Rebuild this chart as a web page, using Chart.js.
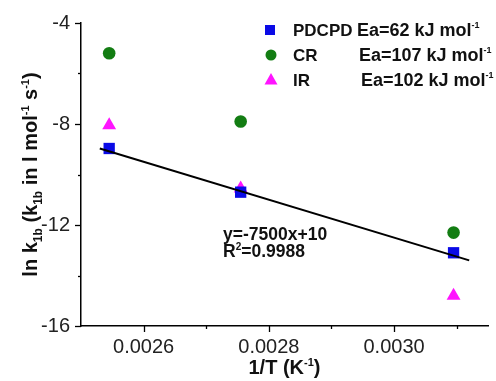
<!DOCTYPE html>
<html>
<head>
<meta charset="utf-8">
<script src="https://cdn.jsdelivr.net/npm/chart.js@4.4.0/dist/chart.umd.min.js"></script>
<style>
html,body{margin:0;padding:0;background:#fff;}
canvas{display:block;}
</style>
</head>
<body>
<canvas id="c" width="496" height="381"></canvas>
<script>
// ---- data ----
const invT   = [0.002545, 0.002755, 0.003095];     // 1/T (K^-1)
const pdcpd  = [-8.97, -10.70, -13.10];
const cr     = [-5.20, -7.90, -12.30];
const ir     = [-8.05, -10.55, -14.80];
const fitX   = [0.00253, 0.00312];
const fitY   = [-8.97, -13.40];
const seriesNames = ['PDCPD', 'CR', 'IR'];
const seriesEa    = ['Ea=62 kJ mol', 'Ea=107 kJ mol', 'Ea=102 kJ mol'];
const xMajor = [0.0026, 0.0028, 0.0030];
const xMinor = [0.0027, 0.0029, 0.0031];
const yMajor = [-4, -8, -12, -16];
const yMinor = [-6, -10, -14];
const eqText = 'y=-7500x+10';
const r2Value = '=0.9988';

const FONT = '"Liberation Sans", Arial, sans-serif';
const pts = (ys) => invT.map((x, i) => ({x: x, y: ys[i]}));

function drawRich(ctx, segs, x, y, align) {
  let total = 0;
  segs.forEach(s => { ctx.font = 'bold ' + s.size + 'px ' + FONT; s.w = ctx.measureText(s.t).width; total += s.w; });
  let cx = align === 'center' ? x - total / 2 : x;
  ctx.textAlign = 'left';
  ctx.textBaseline = 'alphabetic';
  segs.forEach(s => {
    ctx.font = 'bold ' + s.size + 'px ' + FONT;
    ctx.fillText(s.t, cx, y + (s.dy || 0));
    cx += s.w;
  });
}

const decor = {
  id: 'decor',
  afterDraw(chart) {
    const ctx = chart.ctx;
    const xs = chart.scales.x, ys = chart.scales.y;
    const area = chart.chartArea;
    ctx.save();
    ctx.strokeStyle = '#000';
    ctx.lineWidth = 1.3;
    yMajor.concat(yMinor).forEach(v => {
      const p = Math.round(ys.getPixelForValue(v)) + 0.5;
      const len = yMajor.includes(v) ? 6 : 3;
      ctx.beginPath(); ctx.moveTo(area.left - len, p); ctx.lineTo(area.left, p); ctx.stroke();
    });
    xMajor.concat(xMinor).forEach(v => {
      const p = Math.round(xs.getPixelForValue(v)) + 0.5;
      const len = xMajor.includes(v) ? 6 : 3;
      ctx.beginPath(); ctx.moveTo(p, area.bottom); ctx.lineTo(p, area.bottom + len); ctx.stroke();
    });

    ctx.fillStyle = '#111';
    drawRich(ctx, [
      {t: '1/T (K', size: 20},
      {t: '-1', size: 11, dy: -8},
      {t: ')', size: 20}
    ], (area.left + area.right) / 2, 374, 'center');

    ctx.save();
    ctx.translate(37, (area.top + area.bottom) / 2);
    ctx.rotate(-Math.PI / 2);
    drawRich(ctx, [
      {t: 'ln k', size: 20},
      {t: '1b', size: 12, dy: 5},
      {t: ' (k', size: 20},
      {t: '1b', size: 12, dy: 5},
      {t: ' in l mol', size: 20},
      {t: '-1', size: 11, dy: -8},
      {t: ' s', size: 20},
      {t: '-1', size: 11, dy: -8},
      {t: ')', size: 20}
    ], 0, 0, 'center');
    ctx.restore();

    drawRich(ctx, [{t: eqText, size: 17.5}], 223, 240, 'left');
    drawRich(ctx, [
      {t: 'R', size: 17.5},
      {t: '2', size: 10, dy: -7},
      {t: r2Value, size: 17.5}
    ], 223, 257, 'left');

    const rowsY = [36, 61, 86];
    const eaX = [357, 359, 361];
    chart.data.datasets.slice(0, 3).forEach((ds, i) => {
      const cy = rowsY[i] - 6;
      ctx.fillStyle = ds.backgroundColor;
      if (ds.pointStyle === 'rect') {
        ctx.fillRect(265, cy - 5, 10, 10);
      } else if (ds.pointStyle === 'circle') {
        ctx.beginPath(); ctx.arc(271, cy, 5.5, 0, Math.PI * 2); ctx.fill();
      } else {
        ctx.beginPath();
        ctx.moveTo(271, cy - 7); ctx.lineTo(277.5, cy + 4.5); ctx.lineTo(264.5, cy + 4.5);
        ctx.closePath(); ctx.fill();
      }
      ctx.fillStyle = '#111';
      drawRich(ctx, [{t: seriesNames[i], size: 17}], 293, rowsY[i], 'left');
      drawRich(ctx, [
        {t: seriesEa[i], size: 18},
        {t: '-1', size: 9, dy: -8}
      ], eaX[i], rowsY[i], 'left');
    });
    ctx.restore();
  }
};

new Chart(document.getElementById('c'), {
  type: 'scatter',
  data: {
    datasets: [
      {label: 'PDCPD', data: pts(pdcpd), pointStyle: 'rect', pointRadius: 8, pointHoverRadius: 8,
       backgroundColor: '#0a0ae6', borderColor: '#0a0ae6', borderWidth: 0, clip: false, order: 2},
      {label: 'CR', data: pts(cr), pointStyle: 'circle', pointRadius: 6.3, pointHoverRadius: 6.3,
       backgroundColor: '#137d13', borderColor: '#137d13', borderWidth: 0, clip: false, order: 2},
      {label: 'IR', data: pts(ir), pointStyle: 'triangle', pointRadius: 8, pointHoverRadius: 8,
       backgroundColor: '#ff14ff', borderColor: '#ff14ff', borderWidth: 0, clip: false, order: 2},
      {label: 'fit', data: fitX.map((x, i) => ({x: x, y: fitY[i]})), showLine: true,
       borderColor: '#000', borderWidth: 2, pointRadius: 0, clip: false, order: 1}
    ]
  },
  options: {
    responsive: false,
    animation: false,
    devicePixelRatio: 1,
    layout: {padding: {top: 21, right: 0, left: 0, bottom: 0}},
    plugins: {legend: {display: false}, tooltip: {enabled: false}},
    scales: {
      x: {
        type: 'linear', min: 0.0025, max: 0.00315,
        grid: {display: false, drawTicks: false},
        border: {display: true, color: '#000', width: 1.5},
        afterBuildTicks: (s) => { s.ticks = xMajor.map(v => ({value: v})); },
        afterFit: (s) => { s.height = 55; },
        ticks: {
          padding: 9, color: '#222', maxRotation: 0, autoSkip: false,
          font: {family: FONT, size: 20},
          callback: (v) => Number(v).toFixed(4)
        }
      },
      y: {
        type: 'linear', min: -16, max: -4,
        grid: {display: false, drawTicks: false},
        border: {display: true, color: '#000', width: 1.5},
        afterBuildTicks: (s) => { s.ticks = yMajor.map(v => ({value: v})); },
        afterFit: (s) => { s.width = 81; },
        ticks: {
          padding: 11, color: '#222', autoSkip: false,
          font: {family: FONT, size: 20},
          callback: (v) => String(v)
        }
      }
    }
  },
  plugins: [decor]
});
</script>
</body>
</html>
